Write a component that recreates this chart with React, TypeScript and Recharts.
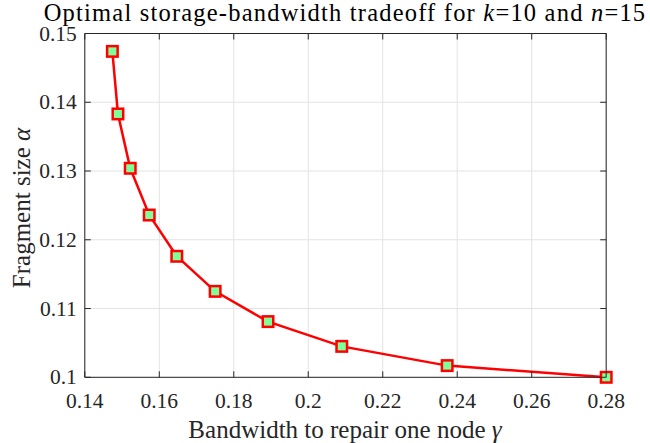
import React from "react";
import { LineChart, Line, XAxis, YAxis, CartesianGrid } from "recharts";

// Corner points of the storage–bandwidth tradeoff (k=10, n=15)
const gamma = [0.1474, 0.1489, 0.1522, 0.1573, 0.1647, 0.175, 0.1892, 0.209, 0.2373, 0.28];
const alpha = [0.1474, 0.1383, 0.1304, 0.1236, 0.1176, 0.1125, 0.1081, 0.1045, 0.1017, 0.1];
const xTicks = [0.14, 0.16, 0.18, 0.2, 0.22, 0.24, 0.26, 0.28];
const yTicks = [0.1, 0.11, 0.12, 0.13, 0.14, 0.15];

const data = gamma.map((g, i) => ({ gamma: g, alpha: alpha[i] }));

const FONT = "'Liberation Serif', 'Times New Roman', serif";
const AXIS = "#262626";
const TEXT = "#262626";
const TICK_LEN = 6;
const W = 650;
const H = 443;
const fmt = (v: number) => String(Number(v.toFixed(2)));

const BottomTick = (props: any) => {
  const { x, y, payload } = props;
  return (
    <g>
      <line x1={x} y1={y} x2={x} y2={y - TICK_LEN} stroke={AXIS} strokeWidth={1} />
      <text x={x} y={y + 31} textAnchor="middle" fontFamily={FONT} fontSize={21.5} fill={TEXT}>
        {fmt(payload.value)}
      </text>
    </g>
  );
};

const LeftTick = (props: any) => {
  const { x, y, payload } = props;
  return (
    <g>
      <line x1={x} y1={y} x2={x + TICK_LEN} y2={y} stroke={AXIS} strokeWidth={1} />
      <text x={x - 8} y={y + 7} textAnchor="end" fontFamily={FONT} fontSize={21.5} fill={TEXT}>
        {fmt(payload.value)}
      </text>
    </g>
  );
};

const TopTick = (props: any) => {
  const { x, y } = props;
  return <line x1={x} y1={y} x2={x} y2={y + TICK_LEN} stroke={AXIS} strokeWidth={1} />;
};

const RightTick = (props: any) => {
  const { x, y } = props;
  return <line x1={x} y1={y} x2={x - TICK_LEN} y2={y} stroke={AXIS} strokeWidth={1} />;
};

const SquareDot = (props: any) => {
  const { cx, cy, index } = props;
  if (cx == null || cy == null) return null;
  const s = 10.5;
  return (
    <rect
      key={`dot-${index}`}
      x={cx - s / 2}
      y={cy - s / 2}
      width={s}
      height={s}
      fill="#7fff9a"
      stroke="#ff0000"
      strokeWidth={2.5}
    />
  );
};

export default function App() {
  return (
    <div style={{ position: "relative", width: W, height: H, overflow: "hidden" }}>
      <style>{"body{margin:0;overflow:hidden}"}</style>
      <LineChart
        width={W}
        height={H}
        data={data}
        margin={{ top: 32.5, right: 42.8, bottom: 5.7, left: 24.8 }}
      >
        <CartesianGrid stroke="#e3e3e3" strokeWidth={1} />
        <XAxis
          dataKey="gamma"
          type="number"
          domain={[0.14, 0.28]}
          ticks={xTicks}
          height={60}
          tickSize={0}
          tickMargin={0}
          axisLine={{ stroke: AXIS, strokeWidth: 1 }}
          tickLine={false}
          tick={<BottomTick />}
          interval={0}
        />
        <XAxis
          xAxisId="top"
          dataKey="gamma"
          orientation="top"
          type="number"
          domain={[0.14, 0.28]}
          ticks={xTicks}
          height={1}
          tickSize={0}
          tickMargin={0}
          axisLine={{ stroke: AXIS, strokeWidth: 1 }}
          tickLine={false}
          tick={<TopTick />}
          interval={0}
        />
        <YAxis
          type="number"
          domain={[0.1, 0.15]}
          ticks={yTicks}
          width={60}
          tickSize={0}
          tickMargin={0}
          axisLine={{ stroke: AXIS, strokeWidth: 1 }}
          tickLine={false}
          tick={<LeftTick />}
          interval={0}
        />
        <YAxis
          yAxisId="right"
          orientation="right"
          type="number"
          domain={[0.1, 0.15]}
          ticks={yTicks}
          width={1}
          tickSize={0}
          tickMargin={0}
          axisLine={{ stroke: AXIS, strokeWidth: 1 }}
          tickLine={false}
          tick={<RightTick />}
          interval={0}
        />
        {/* transparent companion series so the box axes (top/right) get scales */}
        <Line
          xAxisId="top"
          yAxisId="right"
          dataKey="alpha"
          type="linear"
          stroke="transparent"
          dot={false}
          activeDot={false}
          isAnimationActive={false}
        />
        <Line
          dataKey="alpha"
          type="linear"
          stroke="#ff0000"
          strokeWidth={2.5}
          dot={<SquareDot />}
          activeDot={false}
          isAnimationActive={false}
        />
      </LineChart>
      {/* title and axis titles */}
      <svg
        width={W}
        height={H}
        style={{ position: "absolute", left: 0, top: 0, pointerEvents: "none" }}
      >
        <text
          x={345}
          y={20.5}
          textAnchor="middle"
          fontFamily={FONT}
          fontSize={24.5}
          letterSpacing={1.2}
          fill="#000"
        >
          <tspan>Optimal storage-bandwidth tradeoff for </tspan>
          <tspan fontStyle="italic">k</tspan>
          <tspan>=10 and </tspan>
          <tspan fontStyle="italic">n</tspan>
          <tspan>=15</tspan>
        </text>
        <text x={345} y={437.5} textAnchor="middle" fontFamily={FONT} fontSize={25} fill={TEXT}>
          Bandwidth to repair one node <tspan fontStyle="italic">γ</tspan>
        </text>
        <text
          x={0}
          y={0}
          transform="translate(30,208) rotate(-90)"
          textAnchor="middle"
          fontFamily={FONT}
          fontSize={25}
          fill={TEXT}
        >
          Fragment size <tspan fontStyle="italic">α</tspan>
        </text>
      </svg>
    </div>
  );
}
